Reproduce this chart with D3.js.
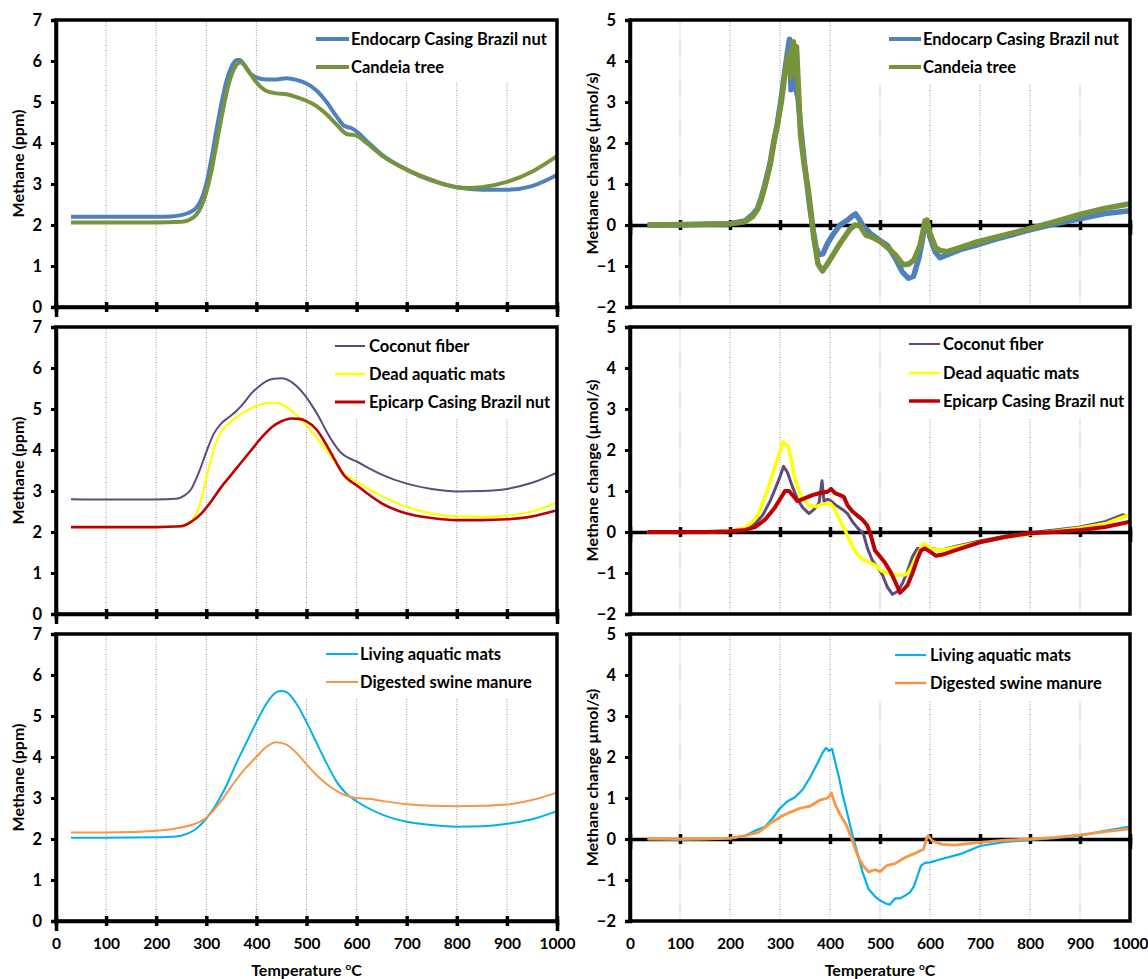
<!DOCTYPE html>
<html>
<head>
<meta charset="utf-8">
<script src="https://cdn.jsdelivr.net/npm/d3@7"></script>
<style>
  body { margin: 0; background: #fff; }
  svg text { font-family: Lato, "Open Sans", sans-serif; font-weight: bold; fill: #000; }
</style>
</head>
<body>
<svg id="chart" width="1148" height="979"></svg>
<script>
// tick labels
var tempTicks = [0, 100, 200, 300, 400, 500, 600, 700, 800, 900, 1000];
var ppmTicks = [0, 1, 2, 3, 4, 5, 6, 7];
var rateTicks = [-2, -1, 0, 1, 2, 3, 4, 5];

// ---- methane concentration (ppm), [temperature, value] ----
var endocarpPpm = [[30,2.2],[100,2.2],[200,2.2],[230,2.21],[250,2.24],[265,2.3],[280,2.42],[290,2.62],[300,3.0],[310,3.6],[320,4.3],[330,4.95],[340,5.5],[350,5.85],[360,6.02],[366,6.03],[372,5.97],[380,5.82],[390,5.67],[400,5.6],[420,5.55],[440,5.55],[460,5.58],[480,5.54],[500,5.45],[520,5.28],[540,5.0],[560,4.65],[575,4.42],[590,4.36],[600,4.28],[620,4.05],[650,3.72],[700,3.35],[750,3.08],[800,2.92],[850,2.86],[900,2.86],[950,2.95],[1000,3.22]];
var candeiaPpm = [[30,2.06],[100,2.06],[200,2.06],[250,2.08],[265,2.12],[280,2.25],[290,2.45],[300,2.8],[310,3.3],[320,3.95],[330,4.6],[340,5.2],[350,5.65],[360,5.9],[368,5.97],[376,5.9],[390,5.65],[400,5.48],[420,5.27],[440,5.21],[460,5.19],[480,5.12],[500,5.03],[520,4.9],[540,4.7],[560,4.45],[580,4.22],[600,4.18],[620,4.0],[650,3.7],[700,3.35],[750,3.1],[800,2.92],[825,2.9],[850,2.92],[900,3.05],[950,3.3],[1000,3.68]];
var coconutPpm = [[30,2.8],[100,2.79],[200,2.79],[240,2.81],[255,2.88],[270,3.05],[285,3.45],[300,3.95],[315,4.4],[330,4.65],[345,4.8],[360,4.95],[375,5.15],[390,5.38],[405,5.55],[420,5.68],[435,5.74],[450,5.75],[465,5.7],[480,5.56],[495,5.36],[510,5.1],[525,4.8],[540,4.45],[555,4.15],[570,3.92],[585,3.8],[600,3.72],[625,3.55],[650,3.4],[700,3.18],[750,3.05],[800,2.99],[850,3.0],[900,3.05],[950,3.2],[1000,3.45]];
var deadMatsPpm = [[30,2.12],[100,2.12],[200,2.12],[250,2.13],[265,2.2],[280,2.45],[290,2.8],[300,3.3],[310,3.8],[320,4.2],[330,4.45],[350,4.7],[370,4.88],[390,5.02],[410,5.12],[430,5.15],[440,5.15],[460,5.05],[480,4.85],[500,4.6],[520,4.3],[540,4.0],[560,3.65],[575,3.42],[590,3.3],[600,3.22],[650,2.88],[700,2.61],[750,2.45],[800,2.38],[850,2.37],[900,2.4],[950,2.5],[1000,2.72]];
var epicarpPpm = [[30,2.12],[100,2.12],[200,2.12],[250,2.14],[270,2.25],[290,2.45],[310,2.75],[330,3.1],[350,3.4],[370,3.7],[390,4.0],[410,4.3],[430,4.55],[450,4.7],[470,4.77],[485,4.76],[500,4.7],[520,4.5],[540,4.12],[560,3.68],[575,3.38],[590,3.22],[600,3.14],[620,2.95],[650,2.7],[700,2.45],[750,2.34],[800,2.29],[850,2.29],[900,2.31],[950,2.38],[1000,2.53]];
var livingMatsPpm = [[30,2.03],[100,2.03],[200,2.04],[240,2.06],[260,2.12],[280,2.25],[300,2.5],[320,2.85],[340,3.3],[360,3.85],[380,4.35],[400,4.85],[420,5.3],[440,5.58],[450,5.61],[460,5.58],[480,5.3],[500,4.85],[520,4.35],[540,3.85],[560,3.4],[580,3.1],[600,2.92],[650,2.6],[700,2.42],[750,2.34],[800,2.3],[850,2.31],[900,2.37],[950,2.48],[1000,2.68]];
var swinePpm = [[30,2.16],[100,2.16],[150,2.17],[200,2.2],[250,2.28],[275,2.36],[300,2.52],[325,2.85],[350,3.28],[375,3.68],[400,4.0],[420,4.25],[440,4.36],[460,4.3],[480,4.1],[500,3.82],[525,3.5],[550,3.25],[575,3.08],[600,3.0],[625,2.98],[650,2.93],[700,2.85],[750,2.81],[800,2.8],[850,2.81],[900,2.84],[950,2.95],[1000,3.13]];

// ---- methane change (umol/s), [temperature, value] ----
var endocarpRate = [[35,0],[100,0],[150,0.02],[200,0.03],[230,0.1],[245,0.25],[255,0.4],[262,0.65],[270,1.0],[280,1.5],[287,2.0],[295,2.5],[302,3.05],[308,3.6],[313,4.05],[316,4.3],[319,4.53],[322,3.3],[325,4.1],[330,3.4],[336,3.1],[342,2.3],[349,1.5],[355,0.9],[360,0.4],[366,-0.1],[372,-0.55],[378,-0.72],[386,-0.7],[395,-0.45],[405,-0.25],[420,0.0],[435,0.12],[445,0.22],[451,0.27],[458,0.15],[465,0.0],[480,-0.2],[500,-0.38],[515,-0.5],[530,-0.8],[545,-1.15],[557,-1.3],[567,-1.25],[578,-0.8],[585,-0.35],[590,0.05],[594,0.1],[600,-0.3],[610,-0.65],[620,-0.8],[640,-0.7],[660,-0.6],[690,-0.5],[730,-0.35],[770,-0.22],[800,-0.12],[840,0.0],[900,0.15],[950,0.28],[1000,0.35]];
var candeiaRate = [[35,0],[100,0.01],[150,0.02],[200,0.03],[230,0.08],[245,0.2],[255,0.38],[262,0.6],[270,0.95],[280,1.45],[287,1.95],[295,2.45],[302,2.95],[308,3.5],[313,3.95],[318,4.2],[322,3.6],[325,4.3],[327,4.47],[330,3.7],[333,4.35],[337,3.3],[341,2.2],[348,1.5],[356,0.9],[362,0.3],[367,-0.25],[372,-0.65],[376,-0.95],[385,-1.12],[392,-1.0],[400,-0.85],[420,-0.45],[440,-0.1],[450,0.0],[460,-0.02],[472,-0.25],[485,-0.3],[500,-0.4],[515,-0.55],[531,-0.73],[546,-0.97],[558,-0.95],[568,-0.85],[580,-0.5],[586,-0.15],[590,0.1],[594,0.12],[600,-0.2],[611,-0.55],[620,-0.62],[634,-0.65],[660,-0.55],[692,-0.42],[730,-0.3],[770,-0.18],[800,-0.08],[850,0.08],[898,0.25],[947,0.4],[1000,0.52]];
var coconutRate = [[35,0],[100,-0.02],[150,0],[200,0.02],[230,0.08],[250,0.2],[265,0.4],[280,0.75],[292,1.1],[300,1.35],[307,1.6],[315,1.45],[325,1.1],[335,0.8],[345,0.6],[358,0.45],[368,0.55],[378,0.7],[384,1.25],[388,0.75],[395,0.8],[403,0.75],[412,0.65],[425,0.55],[435,0.45],[445,0.25],[455,0.1],[467,-0.05],[475,-0.4],[485,-0.7],[495,-0.85],[505,-1.05],[515,-1.35],[525,-1.52],[535,-1.45],[545,-1.25],[555,-0.95],[565,-0.6],[575,-0.4],[590,-0.4],[605,-0.4],[620,-0.45],[650,-0.35],[700,-0.22],[750,-0.1],[800,-0.02],[850,0.05],[900,0.12],[950,0.25],[985,0.42],[1000,0.38]];
var deadMatsRate = [[35,0],[100,0],[150,0],[200,0.02],[230,0.1],[245,0.25],[255,0.4],[265,0.7],[276,1.05],[290,1.6],[300,1.95],[306,2.2],[310,2.15],[316,2.1],[322,1.8],[328,1.4],[335,1.1],[343,0.85],[358,0.65],[372,0.62],[385,0.68],[400,0.7],[408,0.6],[415,0.4],[423,0.2],[430,0.05],[437,-0.15],[445,-0.35],[455,-0.55],[467,-0.68],[480,-0.75],[490,-0.8],[503,-0.95],[515,-1.0],[530,-1.05],[547,-1.05],[556,-1.0],[565,-0.8],[577,-0.5],[588,-0.28],[600,-0.4],[620,-0.45],[650,-0.38],[700,-0.25],[750,-0.13],[800,-0.05],[850,0.02],[900,0.1],[950,0.2],[993,0.4],[1000,0.35]];
var epicarpRate = [[35,0],[100,0],[150,0],[200,0.02],[230,0.05],[250,0.12],[270,0.3],[290,0.6],[300,0.8],[310,1.0],[318,1.0],[325,0.9],[335,0.75],[345,0.8],[355,0.85],[365,0.9],[380,0.95],[395,0.98],[402,1.05],[410,0.95],[420,0.9],[428,0.85],[435,0.65],[445,0.5],[455,0.4],[465,0.3],[475,0.15],[482,-0.1],[490,-0.45],[500,-0.6],[510,-0.75],[520,-0.95],[530,-1.2],[540,-1.48],[547,-1.4],[555,-1.3],[565,-1.0],[575,-0.65],[582,-0.45],[590,-0.4],[600,-0.48],[612,-0.58],[625,-0.55],[650,-0.45],[700,-0.25],[750,-0.12],[800,-0.03],[850,0.0],[900,0.05],[950,0.12],[1000,0.25]];
var livingMatsRate = [[35,0],[100,-0.02],[150,0],[200,0.01],[230,0.08],[250,0.2],[270,0.3],[285,0.5],[300,0.75],[315,0.92],[330,1.02],[345,1.2],[360,1.5],[375,1.85],[385,2.1],[392,2.22],[398,2.15],[404,2.2],[410,1.9],[418,1.5],[425,1.1],[433,0.7],[440,0.35],[447,0.0],[455,-0.35],[465,-0.8],[477,-1.22],[490,-1.4],[500,-1.5],[513,-1.58],[520,-1.6],[530,-1.45],[540,-1.45],[550,-1.38],[560,-1.3],[568,-1.15],[575,-0.9],[582,-0.65],[590,-0.58],[600,-0.57],[620,-0.5],[660,-0.37],[700,-0.17],[750,-0.07],[800,-0.02],[850,0.02],[900,0.08],[950,0.2],[1000,0.3]];
var swineRate = [[35,0],[100,0],[150,0],[200,0.02],[230,0.08],[257,0.16],[280,0.38],[301,0.54],[320,0.65],[340,0.75],[360,0.8],[380,0.95],[396,1.0],[403,1.12],[410,0.85],[420,0.6],[433,0.33],[445,-0.05],[455,-0.4],[466,-0.65],[477,-0.8],[490,-0.75],[500,-0.8],[513,-0.65],[530,-0.6],[550,-0.45],[570,-0.35],[587,-0.25],[593,0.0],[596,0.08],[605,-0.05],[624,-0.13],[650,-0.15],[700,-0.08],[750,-0.03],[800,0.0],[850,0.04],[900,0.1],[950,0.18],[1000,0.25]];

var svg = d3.select("#chart");

// layout of the 2 x 3 grid of plots
var colX = [56, 630];
var colW = [501, 500];
var rowY = [20, 327, 634];
var plotH = 287;

var panels = [
  { col: 0, row: 0, domain: [0, 7], ticks: ppmTicks, title: "Methane (ppm)",
    series: [
      { name: "Endocarp Casing Brazil nut", data: endocarpPpm, color: "#4F81BD", width: 4, key: 4 },
      { name: "Candeia tree", data: candeiaPpm, color: "#77933C", width: 4, key: 4 }
    ],
    legend: { x: 260, len: 33, tx: 295, rows: [19, 47], bgX: 240, bgH: 60 } },
  { col: 0, row: 1, domain: [0, 7], ticks: ppmTicks, title: "Methane (ppm)",
    series: [
      { name: "Coconut fiber", data: coconutPpm, color: "#604A7B", width: 2, key: 2 },
      { name: "Dead aquatic mats", data: deadMatsPpm, color: "#FFFF00", width: 2.2, key: 2.5 },
      { name: "Epicarp Casing Brazil nut", data: epicarpPpm, color: "#C00000", width: 2.6, key: 3 }
    ],
    legend: { x: 279, len: 30, tx: 313, rows: [19, 47, 75], bgX: 275, bgH: 90 } },
  { col: 0, row: 2, domain: [0, 7], ticks: ppmTicks, title: "Methane (ppm)",
    series: [
      { name: "Living aquatic mats", data: livingMatsPpm, color: "#00B0F0", width: 2, key: 2 },
      { name: "Digested swine manure", data: swinePpm, color: "#F79646", width: 2, key: 2 }
    ],
    legend: { x: 270, len: 32, tx: 304, rows: [20, 48], bgX: 245, bgH: 63 } },
  { col: 1, row: 0, domain: [-2, 5], ticks: rateTicks, title: "Methane change (\u00b5mol/s)",
    series: [
      { name: "Endocarp Casing Brazil nut", data: endocarpRate, color: "#4F81BD", width: 5.5, key: 4 },
      { name: "Candeia tree", data: candeiaRate, color: "#77933C", width: 5.5, key: 4 }
    ],
    legend: { x: 259, len: 32, tx: 293, rows: [19, 47], bgX: 240, bgH: 62 } },
  { col: 1, row: 1, domain: [-2, 5], ticks: rateTicks, title: "Methane change (\u00b5mol/s)",
    series: [
      { name: "Coconut fiber", data: coconutRate, color: "#604A7B", width: 3, key: 2 },
      { name: "Dead aquatic mats", data: deadMatsRate, color: "#FFFF00", width: 3.5, key: 2.5 },
      { name: "Epicarp Casing Brazil nut", data: epicarpRate, color: "#C00000", width: 4, key: 3.5 }
    ],
    legend: { x: 279, len: 31, tx: 313, rows: [17, 46, 74], bgX: 275, bgH: 89 } },
  { col: 1, row: 2, domain: [-2, 5], ticks: rateTicks, title: "Methane change \u00b5mol/s)",
    series: [
      { name: "Living aquatic mats", data: livingMatsRate, color: "#00B0F0", width: 2.2, key: 2 },
      { name: "Digested swine manure", data: swineRate, color: "#F79646", width: 2.8, key: 2.5 }
    ],
    legend: { x: 265, len: 31, tx: 300, rows: [21, 49], bgX: 240, bgH: 65 } }
];

panels.forEach(function(p) {
  var x0 = colX[p.col], y0 = rowY[p.row], w = colW[p.col];
  var isRate = p.col === 1;

  var xScale = d3.scaleLinear().domain([0, 1000]).range([0, w]);
  var yScale = d3.scaleLinear().domain(p.domain).range([plotH, 0]);

  var g = svg.append("g").attr("transform", `translate(${x0}, ${y0})`);

  // dotted vertical gridlines
  g.selectAll(".grid")
    .data(tempTicks.slice(1, -1))
    .enter()
    .append("line")
    .attr("x1", d => xScale(d))
    .attr("x2", d => xScale(d))
    .attr("y1", 0)
    .attr("y2", plotH)
    .attr("stroke", "#9a9a9a")
    .attr("stroke-width", 1)
    .attr("stroke-dasharray", "1,1.5");

  // legend box hides the gridlines behind it
  g.append("rect")
    .attr("x", p.legend.bgX)
    .attr("y", 2)
    .attr("width", w - p.legend.bgX - 2)
    .attr("height", p.legend.bgH)
    .attr("fill", "#fff");

  // zero line with crossing ticks on the rate plots
  if (isRate) {
    var zeroAxis = g.append("g")
      .attr("transform", `translate(0, ${yScale(0)})`)
      .call(d3.axisBottom(xScale).tickValues(tempTicks).tickSize(10).tickFormat(""));
    zeroAxis.select(".domain").attr("stroke-width", 3.5);
    zeroAxis.selectAll(".tick line").attr("y1", -5).attr("y2", 5).attr("stroke-width", 3.5);
  }

  // series
  var line = d3.line()
    .x(d => xScale(d[0]))
    .y(d => yScale(d[1]))
    .curve(isRate ? d3.curveLinear : d3.curveMonotoneX);

  p.series.forEach(function(s) {
    g.append("path")
      .datum(s.data)
      .attr("d", line)
      .attr("fill", "none")
      .attr("stroke", s.color)
      .attr("stroke-width", s.width)
      .attr("stroke-linejoin", "round");
  });

  // plot border
  g.append("rect")
    .attr("width", w)
    .attr("height", plotH)
    .attr("fill", "none")
    .attr("stroke", "#000")
    .attr("stroke-width", 3.5);

  // y axis
  var yAxis = g.append("g")
    .call(d3.axisLeft(yScale).tickValues(p.ticks).tickSize(5).tickPadding(9).tickFormat(d3.format("d")));
  yAxis.select(".domain").attr("stroke-width", 3.5);
  yAxis.selectAll(".tick line").attr("stroke-width", 3);
  yAxis.selectAll("text").style("font-size", "16.5px");

  // x axis
  var lastRow = p.row === 2;
  if (!isRate) {
    var xAxis = g.append("g")
      .attr("transform", `translate(0, ${plotH})`)
      .call(d3.axisBottom(xScale).tickValues(tempTicks).tickSize(10).tickPadding(7)
        .tickFormat(lastRow ? d3.format("d") : ""));
    xAxis.select(".domain").attr("stroke-width", 3.5);
    xAxis.selectAll(".tick line").attr("y1", -5).attr("y2", 5).attr("stroke-width", 3.5);
    xAxis.selectAll("text").style("font-size", "15.5px");
  } else if (lastRow) {
    var xLabels = g.append("g")
      .attr("transform", `translate(0, ${plotH})`)
      .call(d3.axisBottom(xScale).tickValues(tempTicks).tickSize(10).tickPadding(7).tickFormat(d3.format("d")));
    xLabels.select(".domain").remove();
    xLabels.selectAll(".tick line").remove();
    xLabels.selectAll("text").style("font-size", "15.5px");
  }

  // legend
  p.series.forEach(function(s, i) {
    var ry = p.legend.rows[i];
    g.append("line")
      .attr("x1", p.legend.x)
      .attr("x2", p.legend.x + p.legend.len)
      .attr("y1", ry)
      .attr("y2", ry)
      .attr("stroke", s.color)
      .attr("stroke-width", s.key);
    g.append("text")
      .attr("x", p.legend.tx)
      .attr("y", ry)
      .attr("dy", "0.35em")
      .style("font-size", "16.5px")
      .text(s.name);
  });

  // y axis title
  svg.append("text")
    .attr("transform", `translate(${isRate ? 592 : 18}, ${y0 + plotH / 2}) rotate(-90)`)
    .attr("text-anchor", "middle")
    .attr("dy", "0.35em")
    .style("font-size", "16px")
    .text(p.title);

  // x axis title on the bottom row
  if (lastRow) {
    var xt = svg.append("text")
      .attr("x", x0 + w / 2)
      .attr("y", 976)
      .attr("text-anchor", "middle")
      .style("font-size", "16px")
      .text("Temperature ");
    xt.append("tspan")
      .attr("dy", -6)
      .style("font-size", "10px")
      .text("o");
    xt.append("tspan")
      .attr("dy", 6)
      .text("C");
  }
});
</script>
</body>
</html>
